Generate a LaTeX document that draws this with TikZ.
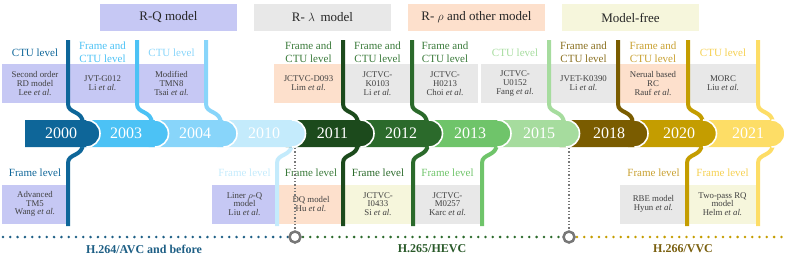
\documentclass[tikz,border=0pt]{standalone}
\usepackage{fontspec}
\setmainfont{Liberation Serif}
\definecolor{cA}{HTML}{0E6699}
\definecolor{cB}{HTML}{4CC2F5}
\definecolor{cC}{HTML}{88D5FA}
\definecolor{cD}{HTML}{C4EBFC}
\definecolor{cE}{HTML}{1C4A1C}
\definecolor{cF}{HTML}{2B6A2B}
\definecolor{cG}{HTML}{6FC46A}
\definecolor{cH}{HTML}{A6DC9E}
\definecolor{cI}{HTML}{7A5C00}
\definecolor{cJ}{HTML}{C49D00}
\definecolor{cK}{HTML}{FDDD66}
\definecolor{lav}{HTML}{C6C8F4}
\definecolor{lgray}{HTML}{E8E8E8}
\definecolor{peach}{HTML}{FDE0CC}
\definecolor{lyel}{HTML}{F6F6DC}
\definecolor{textgray}{HTML}{404040}
\definecolor{lblgreen}{HTML}{3A7A3A}
\definecolor{lblolive}{HTML}{8A7020}
\definecolor{lblgold}{HTML}{C8A030}
\definecolor{lblyel}{HTML}{F5D050}
\definecolor{ringgray}{HTML}{777777}
\definecolor{eraBlue}{HTML}{1E5F85}
\definecolor{eraGreen}{HTML}{2A5A2A}
\definecolor{eraGold}{HTML}{7A6010}
\tikzset{
  cellbox/.style={minimum height=39pt, inner sep=0pt, align=center, text=textgray,
    font=\fontsize{8.8}{8.8}\selectfont},
  lvl/.style={align=center, inner sep=0pt, font=\fontsize{11}{13}\selectfont},
  stem/.style={line width=4pt},
  yeartxt/.style={text=white, inner sep=0pt, font=\fontsize{16}{16}\selectfont},
  hdr/.style={minimum height=27pt, minimum width=137pt, inner sep=0pt, text=black!85,
    font=\fontsize{13}{13}\selectfont},
  era/.style={inner sep=0pt, font=\bfseries\fontsize{12}{12}\selectfont},
  ring/.style={circle, draw=ringgray, line width=2.5pt, fill=white, minimum size=11pt, inner sep=0pt},
  dotline/.style={line width=2.8pt, line cap=round, dash pattern=on 0pt off 7.3pt},
  vdots/.style={draw=ringgray, line width=1.3pt, dotted},
}
\newcommand\topstem[2]{\draw[stem,#2] (#1,40) -- (#1,104) .. controls (#1,114) and ({#1+15},110) .. ({#1+15},124);}
\newcommand\botstem[2]{\draw[stem,#2] (#1,226) -- (#1,163) .. controls (#1,153) and ({#1+15},157) .. ({#1+15},143);}
\newcommand\yearseg[3]{% left, end, color
  \fill[#3] (#1,120) -- ({#2-13.5},120) .. controls ({#2-6},120) and (#2,126) .. (#2,133.5)
     .. controls (#2,141) and ({#2-6},147) .. ({#2-13.5},147) -- (#1,147) -- cycle;
  \draw[white, line width=1.6pt] ({#2-13.5},120) .. controls ({#2-6},120) and (#2,126) .. (#2,133.5)
     .. controls (#2,141) and ({#2-6},147) .. ({#2-13.5},147);
}
\begin{document}
\begin{tikzpicture}[x=1pt,y=-1pt]
\useasboundingbox (0,0) rectangle (789,257);

% headers
\node[hdr, fill=lav]   (h1) at (168.5,17.5) {R-Q model};
\node[hdr, fill=lgray] (h2) at (322.5,17.5) {R- $\lambda$\, model};
\node[hdr, fill=peach] (h3) at (476.5,17.5) {R- $\rho$ and other model};
\node[hdr, fill=lyel]  (h4) at (630.5,17.5) {Model-free};

% top cells
\node[cellbox, fill=lav, minimum width=66pt]   (t1) at (35,83.5)  {Second order\\RD model\\Lee \textit{et al.}};
\node[cellbox, fill=lav, minimum width=69pt]   (t2) at (102.5,83.5) {JVT-G012\\Li \textit{et al.}};
\node[cellbox, fill=lav, minimum width=69pt]   (t3) at (171.5,83.5) {Modified\\TMN8\\Tsai \textit{et al.}};
\node[cellbox, fill=peach, minimum width=69pt] (t4) at (308.5,83.5) {JCTVC-D093\\Lim \textit{et al.}};
\node[cellbox, fill=lgray, minimum width=69pt] (t5) at (377.5,83.5) {JCTVC-\\K0103\\Li \textit{et al.}};
\node[cellbox, fill=lgray, minimum width=66pt] (t6) at (445,83.5)  {JCTVC-\\H0213\\Choi \textit{et al.}};
\node[cellbox, fill=lgray, minimum width=68pt] (t7) at (515,83.5)  {JCTVC-\\U0152\\Fang \textit{et al.}};
\node[cellbox, fill=lgray, minimum width=69pt] (t8) at (583.5,83.5) {JVET-K0390\\Li \textit{et al.}};
\node[cellbox, fill=peach, minimum width=70pt] (t9) at (653,83.5)  {Nerual based\\RC\\Rauf \textit{et al.}};
\node[cellbox, fill=lgray, minimum width=70pt] (t10) at (723,83.5) {MORC\\Liu \textit{et al.}};

% top labels
\node[lvl, text=cA] (lt1) at (35,52.5) {CTU level};
\node[lvl, text=cB] (lt2) at (102.5,52.5) {Frame and\\CTU level};
\node[lvl, text=cC] (lt3) at (171.5,52.5) {CTU level};
\node[lvl, text=lblgreen] (lt4) at (308.5,52.5) {Frame and\\CTU level};
\node[lvl, text=lblgreen] (lt5) at (377.5,52.5) {Frame and\\CTU level};
\node[lvl, text=lblgreen] (lt6) at (445,52.5) {Frame and\\CTU level};
\node[lvl, text=cH] (lt7) at (515,52.5) {CTU level};
\node[lvl, text=lblolive] (lt8) at (583.5,52.5) {Frame and\\CTU level};
\node[lvl, text=lblgold] (lt9) at (653,52.5) {Frame and\\CTU level};
\node[lvl, text=lblyel] (lt10) at (723,52.5) {CTU level};

% bottom cells
\node[cellbox, fill=lav, minimum width=66pt]   (b1) at (35,204)   {Advanced\\TM5\\Wang \textit{et al.}};
\node[cellbox, fill=lav, minimum width=65pt]   (b2) at (244.5,204) {Liner $\rho$-Q\\model\\Liu \textit{et al.}};
\node[cellbox, fill=peach, minimum width=64pt] (b3) at (311,204)  {DQ model\\Hu \textit{et al.}};
\node[cellbox, fill=lyel, minimum width=70pt]  (b4) at (378,204)  {JCTVC-\\I0433\\Si \textit{et al.}};
\node[cellbox, fill=lgray, minimum width=69pt] (b5) at (447.5,204) {JCTVC-\\M0257\\Karc \textit{et al.}};
\node[cellbox, fill=lgray, minimum width=67pt] (b6) at (653.5,204) {RBE model\\Hyun \textit{et al.}};
\node[cellbox, fill=lyel, minimum width=71pt]  (b7) at (722.5,204) {Two-pass RQ\\model\\Helm \textit{et al.}};

% bottom labels
\node[lvl, text=cA] (lb1) at (35,173) {Frame level};
\node[lvl, text=cD] (lb2) at (244.5,173) {Frame level};
\node[lvl, text=lblgreen] (lb3) at (311,173) {Frame level};
\node[lvl, text=cF] (lb4) at (378,173) {Frame level};
\node[lvl, text=cG] (lb5) at (447.5,173) {Frame level};
\node[lvl, text=lblgold] (lb6) at (653.5,173) {Frame level};
\node[lvl, text=lblyel] (lb7) at (722.5,173) {Frame level};

% stems
\topstem{68}{cA}
\topstem{137}{cB}
\topstem{206}{cC}
\topstem{343}{cE}
\topstem{412}{cF}
\topstem{549}{cH}
\topstem{618}{cI}
\topstem{688}{cJ}
\topstem{758}{cK}
\botstem{68}{cA}
\botstem{277}{cD}
\botstem{343}{cE}
\botstem{413}{cF}
\botstem{482}{cG}
\botstem{687}{cJ}
\botstem{758}{cK}

% year band (right to left)
\yearseg{696.5}{785}{cK}
\yearseg{628}{716.5}{cJ}
\yearseg{559.5}{648}{cI}
\yearseg{491}{579.5}{cH}
\yearseg{422.5}{511}{cG}
\yearseg{354}{442.5}{cF}
\yearseg{285.5}{374}{cE}
\yearseg{217}{305.5}{cD}
\yearseg{148.5}{237}{cC}
\yearseg{80}{168.5}{cB}
\yearseg{25}{100}{cA}

\node[yeartxt] (y1) at (61,133.5) {2000};
\node[yeartxt] (y2) at (126,133.5) {2003};
\node[yeartxt] (y3) at (195,133.5) {2004};
\node[yeartxt] (y4) at (264,133.5) {2010};
\node[yeartxt] (y5) at (332.5,133.5) {2011};
\node[yeartxt] (y6) at (401,133.5) {2012};
\node[yeartxt] (y7) at (470,133.5) {2013};
\node[yeartxt] (y8) at (539,133.5) {2015};
\node[yeartxt] (y9) at (609,133.5) {2018};
\node[yeartxt] (y10) at (679,133.5) {2020};
\node[yeartxt] (y11) at (748,133.5) {2021};

% era timeline
\coordinate (d0) at (3,237);
\coordinate (d1) at (288,237);
\coordinate (d2) at (303,237);
\coordinate (d3) at (562,237);
\coordinate (d4) at (577,237);
\coordinate (d5) at (788,237);
\draw[dotline, eraBlue] (d0) -- (d1);
\draw[dotline, cF] (d2) -- (d3);
\draw[dotline, cJ] (d4) -- (d5);
\coordinate (v1) at (295,148);
\coordinate (v2) at (569,148);
\node[ring] (r1) at (295,237) {};
\node[ring] (r2) at (569,237) {};
\draw[vdots] (v1) -- (r1);
\draw[vdots] (v2) -- (r2);

\node[era, text=eraBlue]  (e1) at (144,249) {H.264/AVC and before};
\node[era, text=eraGreen] (e2) at (432,249) {H.265/HEVC};
\node[era, text=eraGold]  (e3) at (683,249) {H.266/VVC};
\end{tikzpicture}
\end{document}
